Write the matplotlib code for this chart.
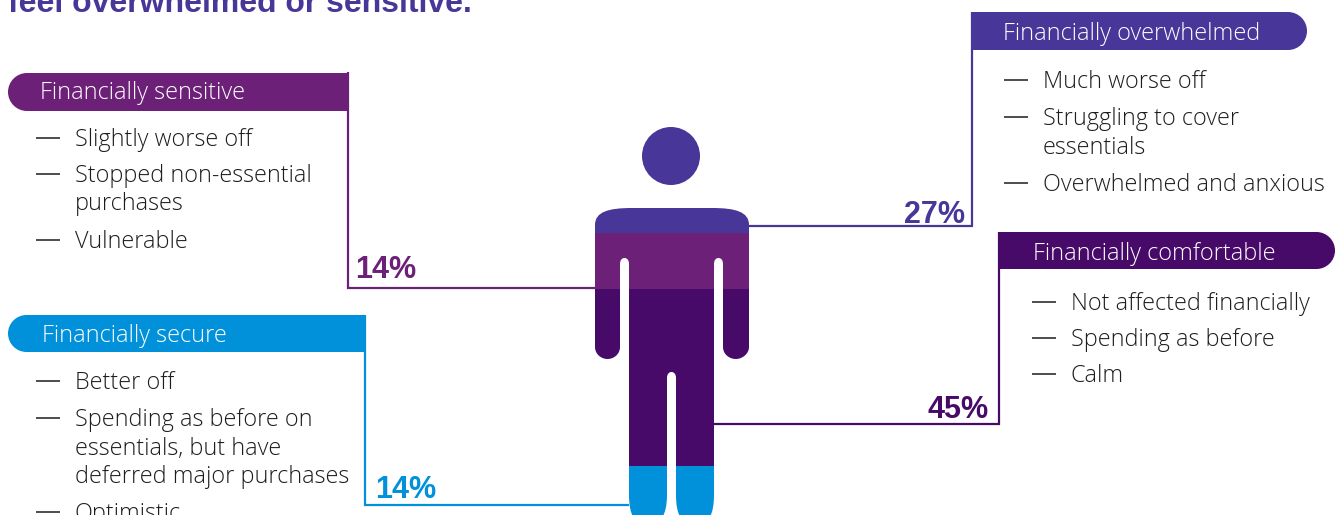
"""
Infographic: how people describe their financial position, drawn on a figure
person split into four coloured bands.
"""
import matplotlib
matplotlib.use("Agg")
import matplotlib.pyplot as plt
from matplotlib.patches import Circle, PathPatch, Rectangle
from matplotlib.path import Path

WIDTH, HEIGHT = 1340, 515

INDIGO = "#483698"
PURPLE = "#6D2077"
DARK_PURPLE = "#470A68"
BLUE = "#0091DA"
TEXT = "#1d1d1b"

TITLE = "feel overwhelmed or sensitive."

groups = ["Financially sensitive", "Financially overwhelmed",
          "Financially comfortable", "Financially secure"]
shares = [14, 27, 45, 14]
group_colors = [PURPLE, INDIGO, DARK_PURPLE, BLUE]

sensitive_items = ["Slightly worse off", "Stopped non-essential\npurchases", "Vulnerable"]
overwhelmed_items = ["Much worse off", "Struggling to cover\nessentials", "Overwhelmed and anxious"]
comfortable_items = ["Not affected financially", "Spending as before", "Calm"]
secure_items = ["Better off", "Spending as before on\nessentials, but have\ndeferred major purchases", "Optimistic"]
group_items = [sensitive_items, overwhelmed_items, comfortable_items, secure_items]

# header bar: left, right, top, bottom, rounded side
header_boxes = [(8, 348, 73, 111, "left"), (972, 1307, 12, 50, "right"),
                (999, 1335, 232, 269, "right"), (8, 365, 315, 352, "left")]
header_text_x = [40, 1003, 1033, 42]
header_baseline = [99, 40, 260, 342]
# leader: vertical x, vertical top, elbow y, x where it meets the figure
leaders = [(348, 72, 288, 595), (972, 12, 226, 749), (999, 232, 424, 714), (365, 315, 505, 629)]
share_pos = [(355, 278), (904, 223), (928, 418), (375, 498)]
dash_x = [(36, 60), (1004, 1028), (1032, 1056), (36, 60)]
item_x = [75, 1043, 1071, 75]
item_y = [[138, 174, 240], [80, 117, 183], [302, 338, 374], [381, 418, 512]]

plt.rcParams["font.family"] = ["Liberation Sans", "DejaVu Sans"]
BODY_FONT = ["Open Sans", "Liberation Sans"]


def header_path(left, right, top, bottom, side):
    """Bar with one fully rounded end."""
    r = (bottom - top) / 2
    k = r * 0.5523
    if side == "left":
        verts = [(right, top), (left + r, top), (left + r - k, top), (left, top + r - k),
                 (left, top + r), (left, top + r + k), (left + r - k, bottom), (left + r, bottom),
                 (right, bottom), (right, top)]
    else:
        verts = [(left, top), (right - r, top), (right - r + k, top), (right, top + r - k),
                 (right, top + r), (right, top + r + k), (right - r + k, bottom), (right - r, bottom),
                 (left, bottom), (left, top)]
    codes = [Path.MOVETO, Path.LINETO, Path.CURVE4, Path.CURVE4, Path.CURVE4,
             Path.CURVE4, Path.CURVE4, Path.CURVE4, Path.LINETO, Path.CLOSEPOLY]
    return Path(verts, codes)


def body_path():
    """Outline of the figure below the head, traced clockwise from the left shoulder."""
    # each stretch is a straight run to its first point, then cubic curves
    stretches = [
        [(595, 225), (595, 212), (608, 208), (632, 208)],
        [(712, 208), (736, 208), (749, 212), (749, 225)],
        [(749, 347), (749, 354), (742, 359), (736, 359), (729, 359), (723, 354), (723, 347)],
        [(723, 264), (723, 260), (721, 258), (718.5, 258), (716, 258), (714, 260), (714, 264)],
        [(714, 495), (714, 515), (708, 526), (695, 526), (682, 526), (676, 515), (676, 495)],
        [(676, 378), (676, 374), (674, 372), (671.5, 372), (669, 372), (667, 374), (667, 378)],
        [(667, 495), (667, 515), (660, 526), (648, 526), (635, 526), (629, 515), (629, 495)],
        [(629, 264), (629, 260), (627, 258), (624.5, 258), (622, 258), (620, 260), (620, 264)],
        [(620, 347), (620, 354), (614, 359), (607.5, 359), (601, 359), (595, 354), (595, 347)],
    ]
    verts, codes = [], []
    for n, stretch in enumerate(stretches):
        verts += stretch
        codes += [Path.MOVETO if n == 0 else Path.LINETO] + [Path.CURVE4] * (len(stretch) - 1)
    verts.append(stretches[0][0])
    codes.append(Path.LINETO)
    return Path(verts, codes)


fig = plt.figure(figsize=(WIDTH / 100, HEIGHT / 100), dpi=100)
ax = fig.add_axes([0, 0, 1, 1])
ax.set_xlim(0, WIDTH)
ax.set_ylim(HEIGHT, 0)
ax.axis("off")

ax.text(8, 12.5, TITLE, color=INDIGO, fontsize=23, fontweight="bold", va="baseline")

# the figure: head, then four bands clipped to the body outline
ax.add_patch(Circle((671, 156), 29, color=INDIGO, lw=0))
outline = PathPatch(body_path(), facecolor="none", edgecolor="none", transform=ax.transData)
ax.add_patch(outline)
bands = [(200, 232.8, INDIGO), (233.2, 289, PURPLE), (289, 466, DARK_PURPLE), (466, 530, BLUE)]
for top, bottom, color in bands:
    band = Rectangle((590, top), 165, bottom - top, facecolor=color, lw=0)
    ax.add_patch(band)
    band.set_clip_path(outline)

for i, group in enumerate(groups):
    color = group_colors[i]
    left, right, top, bottom, side = header_boxes[i]
    ax.add_patch(PathPatch(header_path(left, right, top, bottom, side), facecolor=color, lw=0))
    ax.text(header_text_x[i], header_baseline[i], group, color="white", family=BODY_FONT,
            fontweight="light", fontsize=16.9, va="baseline")

    line_x, line_top, elbow_y, end_x = leaders[i]
    ax.plot([line_x, line_x, end_x], [line_top, elbow_y, elbow_y], color=color, lw=1.6,
            solid_joinstyle="miter", solid_capstyle="butt")

    ax.text(share_pos[i][0], share_pos[i][1], f"{shares[i]}%", color=color,
            fontsize=22, fontweight="bold", va="baseline")

    for item, y in zip(group_items[i], item_y[i]):
        ax.plot(dash_x[i], [y, y], color=TEXT, lw=1.1, solid_capstyle="butt")
        for n, line in enumerate(item.split("\n")):
            ax.text(item_x[i], y + 8 + n * 28.5, line, color=TEXT, family=BODY_FONT,
                    fontweight="light", fontsize=16.8, va="baseline")

fig.savefig("out.png", dpi=100)
plt.close(fig)
